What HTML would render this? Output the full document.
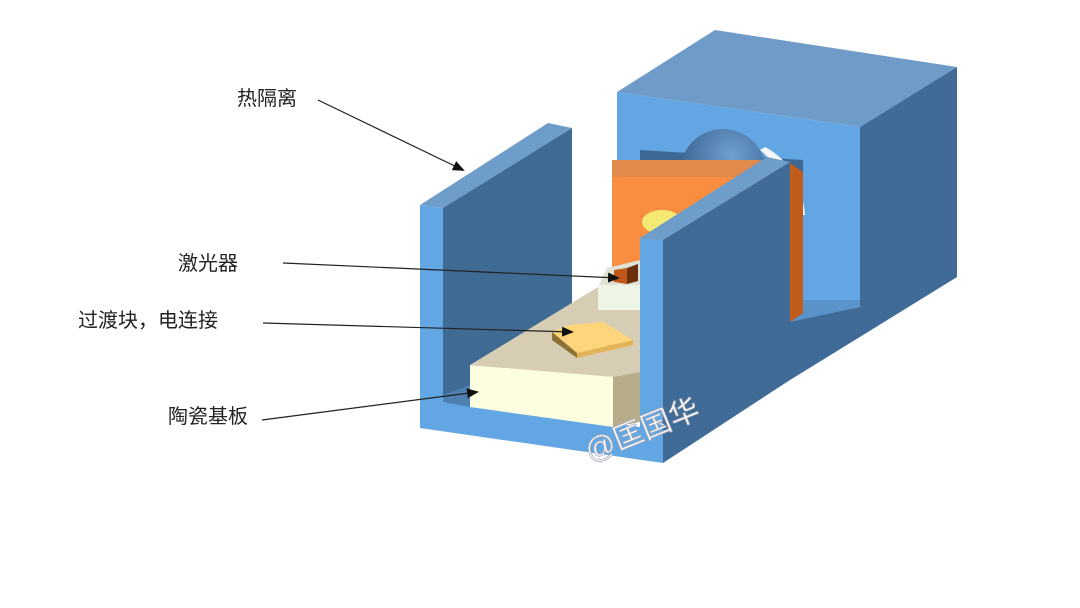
<!DOCTYPE html>
<html><head><meta charset="utf-8"><style>
html,body{margin:0;padding:0;background:#fff;}
body{width:1080px;height:608px;position:relative;overflow:hidden;font-family:"Liberation Sans","Noto Sans CJK SC",sans-serif;}
.t{position:absolute;font-size:20px;color:#222;line-height:24px;}
</style></head><body>
<svg width="1080" height="608" style="position:absolute;left:0;top:0">
<defs>
<marker id="a" markerWidth="12" markerHeight="10" refX="10" refY="5" orient="auto" markerUnits="userSpaceOnUse"><path d="M0,0 L12,5 L0,10 z" fill="#111"/></marker>
<radialGradient id="sp" cx="0.6" cy="0.3" r="0.8"><stop offset="0" stop-color="#6f9ed0"/><stop offset="1" stop-color="#2c557f"/></radialGradient>
</defs>
<!-- back box -->
<polygon points="617,92 715,30 957,67 860,127" fill="#6e9bc7"/>
<polygon points="860,127 957,67 957,277 790,380 790,320 860,307" fill="#3f6b96"/>
<polygon points="617,92 860,127 860,307 790,320 617,300" fill="#62a7e3"/>
<!-- opening -->
<polygon points="640,150 803,160 803,300 640,290" fill="#3d6894"/>
<circle cx="723" cy="172" r="43" fill="url(#sp)"/>
<path d="M765,147 Q800,165 805,215 L790,215 Q785,170 760,150 Z" fill="#f6f7f9"/>
<polygon points="790,300 860,300 860,307 790,322" fill="#5a93c9"/>
<!-- orange block -->
<polygon points="612,160 757,160 790,163 790,177 612,177" fill="#e08a4c"/>
<polygon points="612,177 790,177 790,322 612,300" fill="#f98e40"/>
<polygon points="790,163 803,172 803,313 790,322" fill="#c25c1c"/>
<ellipse cx="662" cy="222" rx="20" ry="12" fill="#f4ea73"/>
<!-- left arm -->
<polygon points="420,205 548,123 572,128 443,208" fill="#6f9dca"/>
<polygon points="443,208 572,128 572,330 443,402" fill="#3f6a93"/>
<polygon points="420,205 443,208 443,402 640,427 640,238 663,240 663,463 420,428" fill="#62a7e3"/>
<!-- ceramic -->
<polygon points="470,365 598,287 640,285 640,372 613,377" fill="#d7cdb5"/>
<polygon points="613,377 640,372 640,422 613,427" fill="#b8ad8a"/>
<polygon points="470,365 613,377 613,427 470,407" fill="#fdfde0"/>
<polygon points="443,395 470,385 470,407 443,402" fill="#4d7fb0"/>
<!-- submount + chip -->
<polygon points="598,287 607,268 640,260 640,287" fill="#e0e2d4"/>
<rect x="598" y="285" width="42" height="25" fill="#eef5e6"/>
<polygon points="627,268 638,264 638,281 627,284" fill="#6b2f0c"/>
<polygon points="614,270 627,268 627,284 614,282" fill="#c0581a"/>
<!-- gold pad -->
<polygon points="552,332 570,325 603,322 633,340 577,353" fill="#fdd57a"/>
<polygon points="552,332 577,353 577,358 552,340" fill="#8d7236"/>
<polygon points="577,353 633,340 633,345 577,358" fill="#e2b456"/>
<!-- right arm -->
<polygon points="640,238 767,157 790,162 663,240" fill="#6f9dca"/>
<polygon points="663,240 790,162 790,380 663,463" fill="#3f6b96"/>
<!-- arrows -->
<line x1="318" y1="100" x2="463" y2="170" stroke="#222" stroke-width="1.2" marker-end="url(#a)"/>
<line x1="283" y1="263" x2="618" y2="278" stroke="#222" stroke-width="1.2" marker-end="url(#a)"/>
<line x1="263" y1="323" x2="572" y2="332" stroke="#222" stroke-width="1.2" marker-end="url(#a)"/>
<line x1="262" y1="420" x2="477" y2="392" stroke="#222" stroke-width="1.2" marker-end="url(#a)"/>
<text x="590" y="462" transform="rotate(-22 590 462)" font-size="30" fill="#fff" stroke="#aab" stroke-width="0.8" font-family="Liberation Sans,Noto Sans CJK SC,sans-serif">@匡国华</text>
</svg>
<div class="t" style="left:237px;top:87px">热隔离</div>
<div class="t" style="left:178px;top:252px">激光器</div>
<div class="t" style="left:78px;top:309px">过渡块，电连接</div>
<div class="t" style="left:168px;top:405px">陶瓷基板</div>
</body></html>
